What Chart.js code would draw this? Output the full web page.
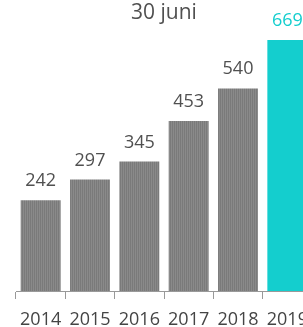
<!DOCTYPE html>
<html>
<head>
<meta charset="utf-8">
<script src="https://cdn.jsdelivr.net/npm/chart.js@4/dist/chart.umd.min.js"></script>
<style>
html,body{margin:0;padding:0;background:#fff;overflow:hidden;}
#wrap{width:331px;height:327px;overflow:hidden;}
</style>
</head>
<body>
<div id="wrap"><canvas id="c" width="331" height="341"></canvas></div>
<script>
const titleText = "30 juni";
const categories = ["2014", "2015", "2016", "2017", "2018", "2019"];
const values = [242, 297, 345, 453, 540, 669];
const highlightIndex = 5;

const teal = "#14cece";

function stripePattern() {
  const p = document.createElement("canvas");
  p.width = 2; p.height = 1;
  const g = p.getContext("2d");
  g.fillStyle = "#7a7a7a"; g.fillRect(0, 0, 1, 1);
  g.fillStyle = "#8a8a8a"; g.fillRect(1, 0, 1, 1);
  return g.createPattern(p, "repeat");
}
const pat = stripePattern();
const barColors = values.map((v, i) => i === highlightIndex ? teal : pat);
const labelColors = values.map((v, i) => i === highlightIndex ? teal : "#505050");

const valueLabels = {
  id: "valueLabels",
  afterDatasetsDraw(chart) {
    const ctx = chart.ctx;
    const meta = chart.getDatasetMeta(0);
    ctx.save();
    ctx.font = "18px 'Open Sans'";
    ctx.textAlign = "center";
    ctx.textBaseline = "alphabetic";
    meta.data.forEach((bar, i) => {
      ctx.fillStyle = labelColors[i];
      ctx.fillText(String(values[i]), bar.x, bar.y - 14);
    });
    ctx.restore();
  }
};

new Chart(document.getElementById("c"), {
  type: "bar",
  data: {
    labels: categories,
    datasets: [{
      data: values,
      backgroundColor: barColors,
      borderWidth: 0,
      barPercentage: 0.81,
      categoryPercentage: 1.0
    }]
  },
  options: {
    responsive: false,
    animation: false,
    layout: { padding: { left: 16, right: 19, top: 0, bottom: 0.4 } },
    plugins: {
      legend: { display: false },
      tooltip: { enabled: false },
      title: {
        display: true,
        text: titleText,
        color: "#505050",
        font: { family: "'Open Sans'", size: 21, weight: "normal" },
        padding: { top: 0, bottom: 4 }
      }
    },
    scales: {
      x: {
        grid: {
          display: true,
          drawOnChartArea: false,
          drawTicks: true,
          tickLength: 8,
          color: "#999999",
          offset: true
        },
        border: { display: true, color: "#999999", width: 1 },
        ticks: {
          color: "#444444",
          font: { family: "'Open Sans'", size: 18 },
          padding: 10,
          maxRotation: 0,
          autoSkip: false
        }
      },
      y: {
        display: false,
        min: 0,
        max: 698
      }
    }
  },
  plugins: [valueLabels]
});
</script>
</body>
</html>
